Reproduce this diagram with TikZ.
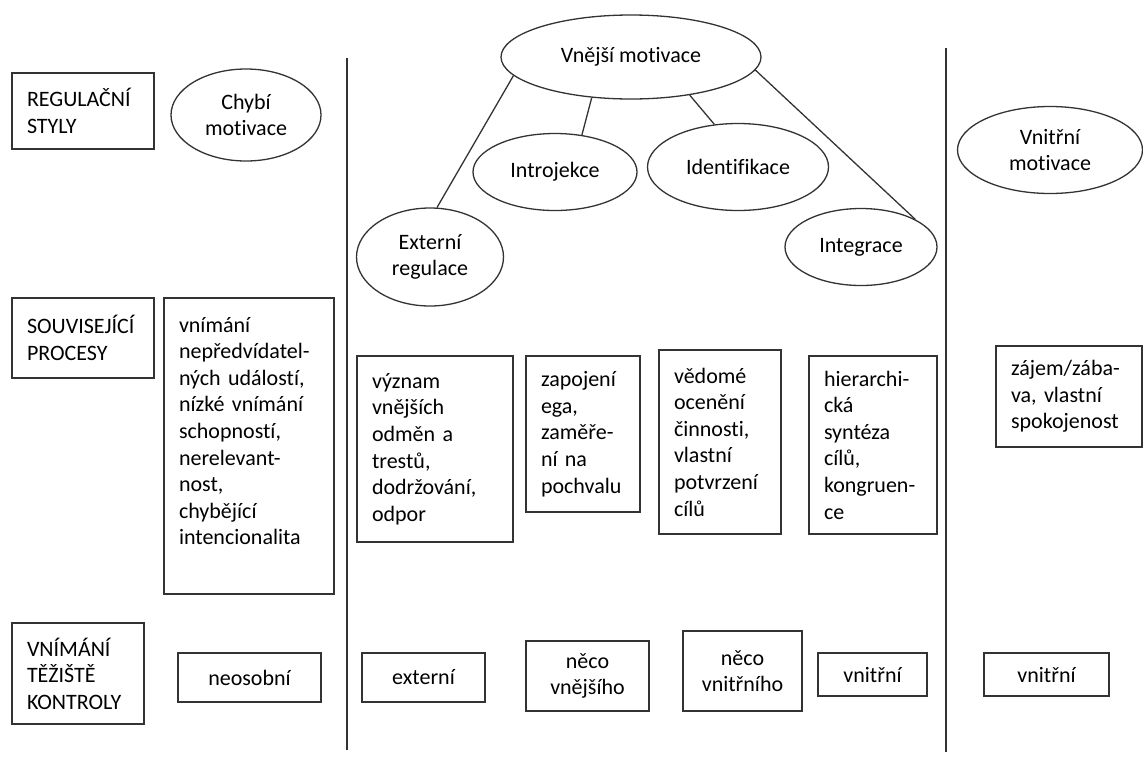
\documentclass[tikz,border=0pt]{standalone}
\usepackage{fontspec}
\setmainfont{Carlito}[Ligatures={NoCommon}]
\usetikzlibrary{shapes.geometric}

\begin{document}
\begin{tikzpicture}[x=0.5pt, y=-0.5pt, line width=0.65pt,
    every node/.style={font=\fontsize{11}{13.3}\selectfont},
    txtbox/.style={draw=black!80, rectangle, align=left, inner xsep=7.5pt, inner ysep=0pt},
    locbox/.style={draw=black!80, rectangle, align=center, inner sep=0pt},
    motell/.style={draw=black!80, ellipse, align=center, inner sep=0pt}]

    \useasboundingbox (0,0) rectangle (1143,756);

    % Row labels:
    \node[txtbox, text width=56pt, minimum height=38pt] (reg) at (83,111) {REGULAČNÍ\\STYLY};
    \node[txtbox, text width=56pt, minimum height=40pt] (sou) at (83,338) {SOUVISEJÍCÍ\\PROCESY};
    \node[txtbox, text width=51pt, minimum height=50.5pt] (vni) at (78,673.5) {VNÍMÁNÍ\\TĚŽIŠTĚ\\KONTROLY};

    % Dividers:
    \coordinate (d1t) at (347,58);
    \coordinate (d1b) at (347,750);
    \coordinate (d2t) at (946,48);
    \coordinate (d2b) at (946,752);
    \draw[black!80] (d1t) -- (d1b);
    \draw[black!80] (d2t) -- (d2b);

    % Motivation ellipses:
    \node[motell, minimum width=75pt, minimum height=46pt] (chybi) at (246,115) {Chybí\\motivace};
    \node[motell, minimum width=130pt, minimum height=42pt] (vnejsi) at (631,57) {Vnější motivace};
    \node[motell, minimum width=73.5pt, minimum height=49pt] (extreg) at (430,257) {Externí\\regulace};
    \node[motell, minimum width=82pt, minimum height=38.5pt] (introj) at (555,172) {Introjekce};
    \node[motell, minimum width=90.5pt, minimum height=43.5pt] (identif) at (738,167) {Identifikace};
    \node[motell, minimum width=76pt, minimum height=38.5pt] (integr) at (861,247) {Integrace};
    \node[motell, minimum width=92.5pt, minimum height=43.5pt] (vnitrmot) at (1050,150) {Vnitřní\\motivace};

    \draw[black!80] (vnejsi.189) -- (extreg.82);
    \draw[black!80] (vnejsi.226) -- (introj.54);
    \draw[black!80] (vnejsi.327) -- (identif.119);
    \draw[black!80] (vnejsi.354) -- (integr.27);

    % Processes:
    \node[txtbox, text width=70pt, minimum height=148pt] (pamot) at (249,446)
        {vnímání\\nepředvídatel-\\ných událostí,\\nízké vnímání\\schopností,\\nerelevant-\\nost,\\chybějící\\intencionalita\\[1.7pt]\mbox{}};
    \node[txtbox, text width=63pt, minimum height=93pt] (pext) at (435,449)
        {význam\\vnějších\\odměn a\\trestů,\\dodržování,\\odpor};
    \node[txtbox, text width=42pt, minimum height=78pt] (pintro) at (583,434)
        {zapojení\\ega,\\zaměře-\\ní na\\pochvalu};
    \node[txtbox, text width=46pt, minimum height=92pt] (pident) at (720,442)
        {vědomé\\ocenění\\činnosti,\\vlastní\\potvrzení\\cílů};
    \node[txtbox, text width=49pt, minimum height=89pt] (pinteg) at (873,445)
        {hierarchi-\\cká\\syntéza\\cílů,\\kongruen-\\ce};
    \node[txtbox, text width=58pt, minimum height=50.5pt] (pintr) at (1069,396.5)
        {zájem/zába-\\va, vlastní\\spokojenost};

    % Locus of control:
    \node[locbox, minimum width=71.5pt, minimum height=24.5pt] (lamot) at (249.5,677.5) {neosobní};
    \node[locbox, minimum width=61.5pt, minimum height=24.5pt] (lext) at (423.5,677.5) {externí};
    \node[locbox, minimum width=61.5pt, minimum height=35pt] (lintro) at (587.5,676) {něco\\vnějšího};
    \node[locbox, minimum width=59.5pt, minimum height=40pt] (lident) at (742.5,671) {něco\\vnitřního};
    \node[locbox, minimum width=54.5pt, minimum height=21.5pt] (linteg) at (872.5,674.5) {vnitřní};
    \node[locbox, minimum width=62.5pt, minimum height=21.5pt] (lintr) at (1046.5,674.5) {vnitřní};
\end{tikzpicture}
\end{document}
